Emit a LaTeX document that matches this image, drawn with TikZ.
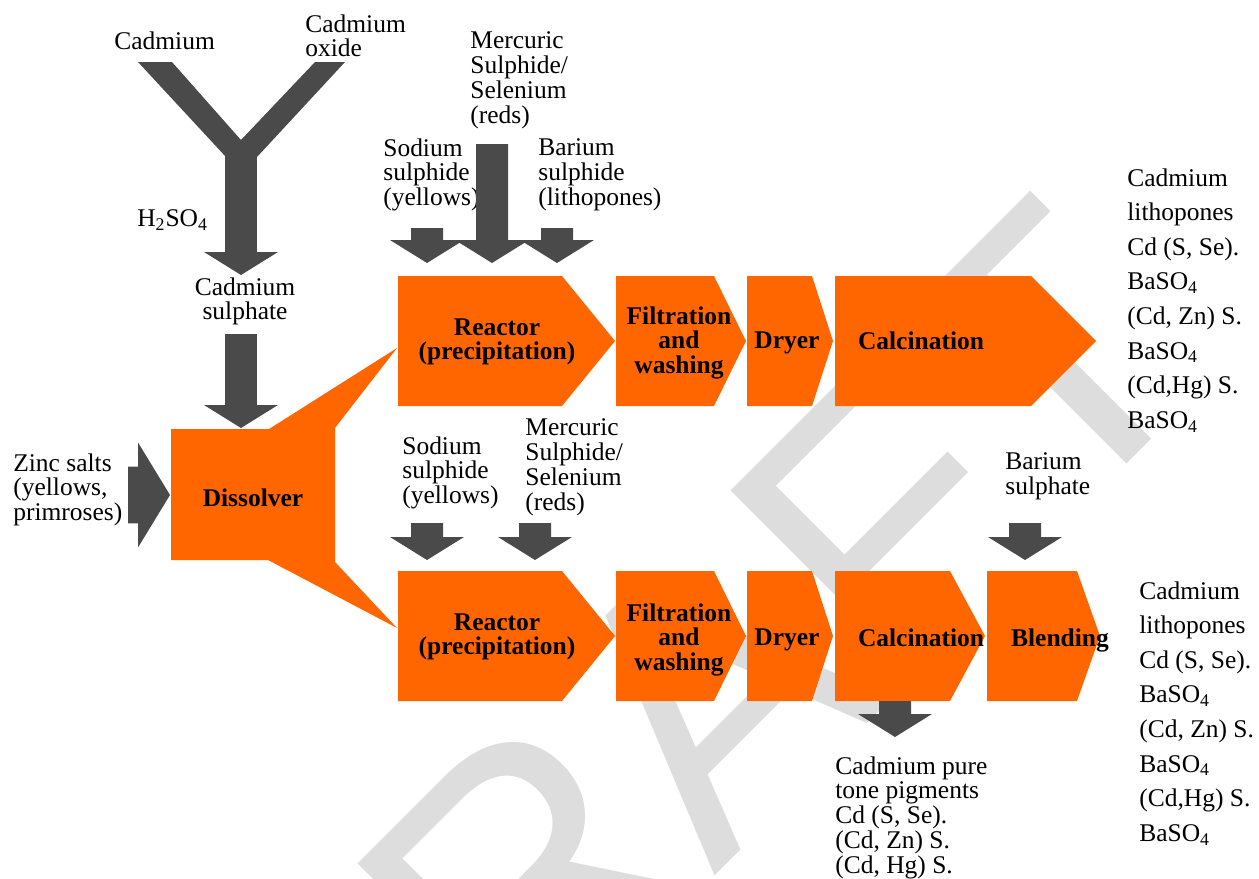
\documentclass[tikz,border=0pt]{standalone}
\usepackage{fontspec}
\setmainfont{Liberation Serif}
\newfontfamily\draftfont{Liberation Sans}
\usetikzlibrary{calc}

\definecolor{stageorange}{HTML}{FF6600}
\definecolor{feedgrey}{HTML}{4A4A4A}
\definecolor{draftgrey}{HTML}{DDDDDD}

\begin{document}
\begin{tikzpicture}[x=0.02cm, y=-0.02cm,
    stagebox/.style={fill=stageorange},
    stagetext/.style={font=\fontsize{14.5}{14.2}\selectfont\bfseries, align=center, inner sep=0pt, anchor=north},
    feedtext/.style={font=\fontsize{14.5}{14.2}\selectfont, align=left, inner sep=0pt, anchor=north west},
    producttext/.style={font=\fontsize{14.5}{19.7}\selectfont, align=left, inner sep=0pt, anchor=north west},
    draftmark/.style={font=\draftfont\fontsize{216}{216}\selectfont, text=draftgrey, inner sep=0pt, anchor=base west, rotate=45},
    fatdown/.style={fill=feedgrey, to path={let \p1=(\tikztostart), \p2=(\tikztotarget) in
        (\x1-0.32cm,\y1) -- (\x1+0.32cm,\y1) -- (\x1+0.32cm,\y2+0.46cm) -- (\x1+0.74cm,\y2+0.46cm)
        -- (\x1,\y2) -- (\x1-0.74cm,\y2+0.46cm) -- (\x1-0.32cm,\y2+0.46cm) -- cycle}},
    fatright/.style={fill=feedgrey, to path={let \p1=(\tikztostart), \p2=(\tikztotarget) in
        (\x1,\y1+0.57cm) -- (\x2-0.64cm,\y1+0.57cm) -- (\x2-0.64cm,\y1+1.05cm) -- (\x2,\y1)
        -- (\x2-0.64cm,\y1-1.05cm) -- (\x2-0.64cm,\y1-0.57cm) -- (\x1,\y1-0.57cm) -- cycle}}
  ]
  \useasboundingbox (0,0) rectangle (1259,879);
  \clip (0,0) rectangle (1259,879);

  % Watermark
  \node[draftmark] (draftword) at (327,1264) {DRAFT};

  % Dissolver with its two outlets
  \fill[stagebox] (171,429) -- (269,429) -- (397,348) -- (335,428) -- (335,562)
    -- (397,628) -- (268,560) -- (171,560) -- cycle;

  % Upper line stages
  \foreach \xa/\xb/\xc in {398/562/615, 616/714/746, 747/812/833, 835/1031/1096} {
      \fill[stagebox] (\xa,276) -- (\xb,276) -- (\xc,341) -- (\xb,406) -- (\xa,406) -- cycle;
    }
  % Lower line stages
  \foreach \xa/\xb/\xc in {398/562/615, 616/714/746, 747/812/833, 835/950/985, 987/1077/1100} {
      \fill[stagebox] (\xa,571) -- (\xb,571) -- (\xc,636) -- (\xb,701) -- (\xa,701) -- cycle;
    }

  % Stage labels
  \node[stagetext] (dissolver) at (253,488) {Dissolver};
  \node[stagetext] (reactorup) at (497,318) {Reactor\\(precipitation)};
  \node[stagetext] (filterup) at (679,306) {Filtration\\and\\washing};
  \node[stagetext] (dryerup) at (787,331) {Dryer};
  \node[stagetext] (calcup) at (921,331) {Calcination};
  \node[stagetext] (reactorlow) at (497,613) {Reactor\\(precipitation)};
  \node[stagetext] (filterlow) at (679,603) {Filtration\\and\\washing};
  \node[stagetext] (dryerlow) at (787,628) {Dryer};
  \node[stagetext] (calclow) at (921,628) {Calcination};
  \node[stagetext] (blending) at (1060,628) {Blending};

  % Feed labels
  \node[feedtext] (cadmium) at (114,31) {Cadmium};
  \node[feedtext] (cdoxide) at (305,14) {Cadmium\\oxide};
  \node[feedtext] (acid) at (137,209) {H\textsubscript{2}SO\textsubscript{4}};
  \node[feedtext, align=center, anchor=north] (cdsulphate) at (245,277) {Cadmium\\sulphate};
  \node[feedtext] (zinc) at (13,453) {Zinc salts\\(yellows,\\primroses)};
  \node[feedtext] (sodiumup) at (383,138) {Sodium\\sulphide\\(yellows)};
  \node[feedtext] (mercuricup) at (470,31) {Mercuric\\Sulphide/\\Selenium\\(reds)};
  \node[feedtext] (bariumup) at (538,138) {Barium\\sulphide\\(lithopones)};
  \node[feedtext] (sodiumlow) at (402,436) {Sodium\\sulphide\\(yellows)};
  \node[feedtext] (mercuriclow) at (525,418) {Mercuric\\Sulphide/\\Selenium\\(reds)};
  \node[feedtext] (bariumlow) at (1005,452) {Barium\\sulphate};

  % Products
  \node[producttext] (lithoup) at (1127,168) {Cadmium\\lithopones\\Cd (S, Se).\\BaSO\textsubscript{4}\\(Cd, Zn) S.\\BaSO\textsubscript{4}\\(Cd,Hg) S.\\BaSO\textsubscript{4}};
  \node[producttext] (litholow) at (1139,581) {Cadmium\\lithopones\\Cd (S, Se).\\BaSO\textsubscript{4}\\(Cd, Zn) S.\\BaSO\textsubscript{4}\\(Cd,Hg) S.\\BaSO\textsubscript{4}};
  \node[feedtext] (puretone) at (835,756) {Cadmium pure\\tone pigments\\Cd (S, Se).\\(Cd, Zn) S.\\(Cd, Hg) S.};

  % Feed arrow ends
  \coordinate (cdjoin) at (241,150);
  \coordinate (cdjointip) at (241,275);
  \coordinate (sulphin) at (241,334);
  \coordinate (sulphtip) at (241,428);
  \coordinate (zincin) at (128,495);
  \coordinate (zinctip) at (170,495);
  \coordinate (sodiumupin) at (427,228);
  \coordinate (sodiumuptip) at (427,263);
  \coordinate (mercuricupin) at (492,144);
  \coordinate (mercuricuptip) at (492,263);
  \coordinate (bariumupin) at (557,228);
  \coordinate (bariumuptip) at (557,263);
  \coordinate (sodiumlowin) at (427,523);
  \coordinate (sodiumlowtip) at (427,560);
  \coordinate (mercuriclowin) at (535,523);
  \coordinate (mercuriclowtip) at (535,560);
  \coordinate (bariumlowin) at (1025,523);
  \coordinate (bariumlowtip) at (1025,560);
  \coordinate (pureout) at (895,701);
  \coordinate (pureouttip) at (895,737);

  % Cadmium + cadmium oxide arms
  \fill[feedgrey] (138,62) -- (172,62) -- (241,140) -- (315,62) -- (345,62) -- (257,157)
    -- (226,157) -- cycle;

  % Feed arrows
  \path[fatdown] (cdjoin) to (cdjointip);
  \path[fatdown] (sulphin) to (sulphtip);
  \path[fatright] (zincin) to (zinctip);
  \path[fatdown] (sodiumupin) to (sodiumuptip);
  \path[fatdown] (mercuricupin) to (mercuricuptip);
  \path[fatdown] (bariumupin) to (bariumuptip);
  \path[fatdown] (sodiumlowin) to (sodiumlowtip);
  \path[fatdown] (mercuriclowin) to (mercuriclowtip);
  \path[fatdown] (bariumlowin) to (bariumlowtip);
  \path[fatdown] (pureout) to (pureouttip);
\end{tikzpicture}
\end{document}
